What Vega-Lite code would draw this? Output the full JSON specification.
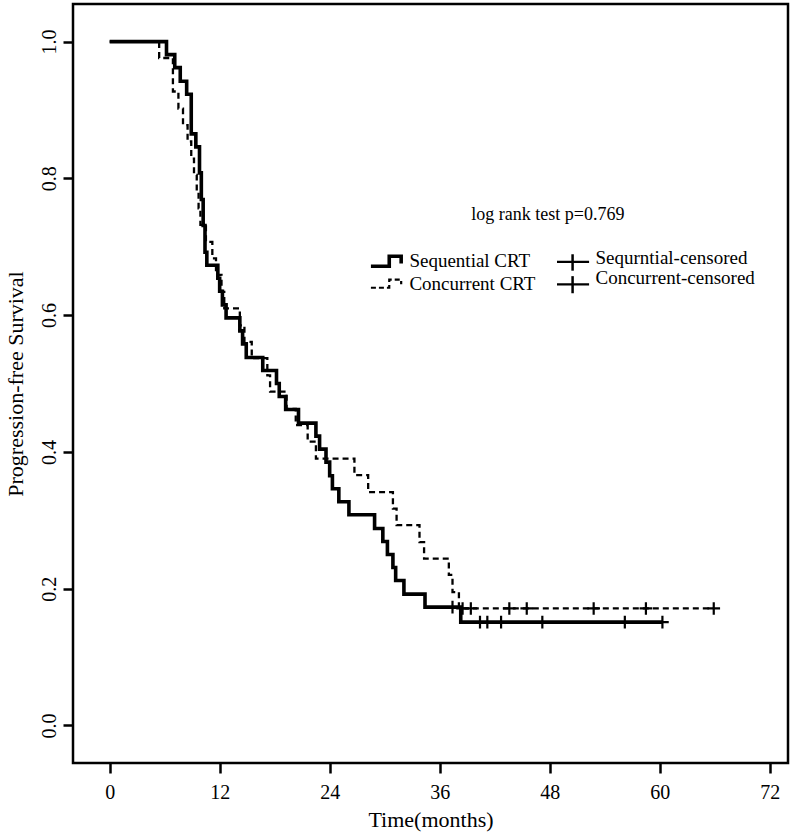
{
  "$schema": "https://vega.github.io/schema/vega-lite/v6.json",
  "width": 715,
  "height": 759,
  "autosize": {"type": "none"},
  "padding": {"left": 73, "top": 4, "right": 4, "bottom": 71},
  "background": "white",
  "config": {
    "view": {"stroke": "black", "strokeWidth": 2.5},
    "font": "Liberation Serif",
    "axis": {
      "grid": false,
      "domain": false,
      "tickColor": "black",
      "tickWidth": 2.5,
      "tickSize": 10,
      "labelColor": "black",
      "titleColor": "black",
      "labelFont": "Liberation Serif",
      "titleFont": "Liberation Serif",
      "labelFontSize": 20,
      "titleFontSize": 21,
      "titleFontWeight": "normal"
    }
  },
  "datasets": {
    "seq": [
      {"t": 0, "s": 1}, {"t": 6.2, "s": 0.981}, {"t": 7.1, "s": 0.962}, {"t": 7.7, "s": 0.942},
      {"t": 8.4, "s": 0.923}, {"t": 8.9, "s": 0.865}, {"t": 9.4, "s": 0.846}, {"t": 9.8, "s": 0.808},
      {"t": 10.0, "s": 0.769}, {"t": 10.2, "s": 0.731}, {"t": 10.4, "s": 0.692}, {"t": 10.6, "s": 0.673},
      {"t": 11.8, "s": 0.654}, {"t": 12.0, "s": 0.635}, {"t": 12.3, "s": 0.615}, {"t": 12.7, "s": 0.596},
      {"t": 14.2, "s": 0.577}, {"t": 14.5, "s": 0.558}, {"t": 14.9, "s": 0.538}, {"t": 16.7, "s": 0.519},
      {"t": 18.2, "s": 0.5}, {"t": 18.5, "s": 0.481}, {"t": 19.2, "s": 0.462}, {"t": 20.6, "s": 0.442},
      {"t": 22.5, "s": 0.423}, {"t": 22.9, "s": 0.404}, {"t": 23.6, "s": 0.385}, {"t": 24.0, "s": 0.365},
      {"t": 24.3, "s": 0.346}, {"t": 25.0, "s": 0.327}, {"t": 26.1, "s": 0.308}, {"t": 28.9, "s": 0.288},
      {"t": 29.8, "s": 0.269}, {"t": 30.3, "s": 0.25}, {"t": 30.9, "s": 0.231}, {"t": 31.2, "s": 0.212},
      {"t": 32.1, "s": 0.192}, {"t": 34.4, "s": 0.173}, {"t": 38.3, "s": 0.151}, {"t": 60.3, "s": 0.151}
    ],
    "con": [
      {"t": 0, "s": 1}, {"t": 5.4, "s": 0.976}, {"t": 6.9, "s": 0.927}, {"t": 7.5, "s": 0.902},
      {"t": 8.0, "s": 0.878}, {"t": 8.5, "s": 0.854}, {"t": 8.9, "s": 0.829}, {"t": 9.2, "s": 0.805},
      {"t": 9.5, "s": 0.78}, {"t": 9.7, "s": 0.756}, {"t": 9.9, "s": 0.732}, {"t": 10.5, "s": 0.707},
      {"t": 11.2, "s": 0.683}, {"t": 11.6, "s": 0.659}, {"t": 12.2, "s": 0.634}, {"t": 12.5, "s": 0.61},
      {"t": 14.2, "s": 0.585}, {"t": 14.7, "s": 0.561}, {"t": 15.5, "s": 0.537}, {"t": 17.2, "s": 0.512},
      {"t": 17.5, "s": 0.488}, {"t": 19.3, "s": 0.463}, {"t": 20.3, "s": 0.439}, {"t": 21.6, "s": 0.415},
      {"t": 22.5, "s": 0.39}, {"t": 26.7, "s": 0.366}, {"t": 28.2, "s": 0.341}, {"t": 30.9, "s": 0.317},
      {"t": 31.3, "s": 0.293}, {"t": 33.8, "s": 0.268}, {"t": 34.3, "s": 0.244}, {"t": 37.0, "s": 0.22},
      {"t": 37.4, "s": 0.195}, {"t": 38.1, "s": 0.171}, {"t": 65.9, "s": 0.171}
    ],
    "censor": [
      {"t": 37.4, "s": 0.173}, {"t": 40.4, "s": 0.151}, {"t": 41.2, "s": 0.151}, {"t": 42.7, "s": 0.151},
      {"t": 47.2, "s": 0.151}, {"t": 56.2, "s": 0.151}, {"t": 60.3, "s": 0.151},
      {"t": 38.5, "s": 0.171}, {"t": 39.4, "s": 0.171}, {"t": 43.6, "s": 0.171}, {"t": 45.5, "s": 0.171},
      {"t": 52.8, "s": 0.171}, {"t": 58.5, "s": 0.171}, {"t": 65.9, "s": 0.171}
    ],
    "legSeq": [
      {"o": 1, "t": 28.5, "s": 0.6715}, {"o": 2, "t": 30.5, "s": 0.6715}, {"o": 3, "t": 30.5, "s": 0.686},
      {"o": 4, "t": 31.8, "s": 0.686}, {"o": 5, "t": 31.8, "s": 0.6754}
    ],
    "legCon": [
      {"o": 1, "t": 28.5, "s": 0.640}, {"o": 2, "t": 30.5, "s": 0.640}, {"o": 3, "t": 30.5, "s": 0.652},
      {"o": 4, "t": 31.8, "s": 0.652}, {"o": 5, "t": 31.8, "s": 0.645}
    ],
    "legPlusH": [
      {"t": 48.8, "t2": 52.3, "s": 0.678},
      {"t": 48.8, "t2": 52.3, "s": 0.645}
    ],
    "legPlusV": [
      {"t": 50.5, "s": 0.689, "s2": 0.665},
      {"t": 50.5, "s": 0.657, "s2": 0.632}
    ],
    "legText": [
      {"t": 32.7, "s": 0.679, "label": "Sequential CRT"},
      {"t": 32.7, "s": 0.646, "label": "Concurrent CRT"},
      {"t": 53.0, "s": 0.683, "label": "Sequrntial-censored"},
      {"t": 53.0, "s": 0.654, "label": "Concurrent-censored"}
    ],
    "pText": [
      {"t": 47.8, "s": 0.747, "label": "log  rank test p=0.769"}
    ]
  },
  "encoding": {
    "x": {
      "field": "t", "type": "quantitative",
      "scale": {"domain": [-4, 74], "nice": false, "zero": false},
      "axis": {"values": [0, 12, 24, 36, 48, 60, 72], "title": "Time(months)", "labelPadding": 9, "titlePadding": 7, "titleFontSize": 22}
    },
    "y": {
      "field": "s", "type": "quantitative",
      "scale": {"domain": [-0.055, 1.055], "nice": false, "zero": false},
      "axis": {
        "values": [0, 0.2, 0.4, 0.6, 0.8, 1.0], "format": ".1f",
        "title": "Progression-free Survival",
        "labelAngle": -90, "labelAlign": "center", "labelBaseline": "bottom", "labelPadding": 4,
        "titlePadding": 12, "titleFontSize": 22
      }
    }
  },
  "layer": [
    {
      "data": {"name": "con"},
      "mark": {"type": "line", "interpolate": "step-after", "color": "black", "strokeWidth": 2.3, "strokeDash": [6, 4], "strokeCap": "butt"}
    },
    {
      "data": {"name": "seq"},
      "mark": {"type": "line", "interpolate": "step-after", "color": "black", "strokeWidth": 3.6, "strokeJoin": "miter", "strokeCap": "butt"}
    },
    {
      "data": {"name": "censor"},
      "mark": {"type": "point", "shape": "M-1,0H1M0,-1V1", "filled": false, "stroke": "black", "strokeWidth": 2.2, "size": 160, "opacity": 1}
    },
    {
      "data": {"name": "legSeq"},
      "mark": {"type": "line", "color": "black", "strokeWidth": 3.6, "strokeJoin": "miter"},
      "encoding": {"order": {"field": "o", "type": "quantitative"}}
    },
    {
      "data": {"name": "legCon"},
      "mark": {"type": "line", "color": "black", "strokeWidth": 2.2, "strokeDash": [5, 3]},
      "encoding": {"order": {"field": "o", "type": "quantitative"}}
    },
    {
      "data": {"name": "legPlusH"},
      "mark": {"type": "rule", "color": "black", "strokeWidth": 2.2},
      "encoding": {"x2": {"field": "t2"}}
    },
    {
      "data": {"name": "legPlusV"},
      "mark": {"type": "rule", "color": "black", "strokeWidth": 2.5},
      "encoding": {"y2": {"field": "s2"}}
    },
    {
      "data": {"name": "legText"},
      "mark": {"type": "text", "align": "left", "baseline": "middle", "font": "Liberation Serif", "fontSize": 19, "color": "black"},
      "encoding": {"text": {"field": "label", "type": "nominal"}}
    },
    {
      "data": {"name": "pText"},
      "mark": {"type": "text", "align": "center", "baseline": "middle", "font": "Liberation Serif", "fontSize": 18, "color": "black"},
      "encoding": {"text": {"field": "label", "type": "nominal"}}
    }
  ]
}
